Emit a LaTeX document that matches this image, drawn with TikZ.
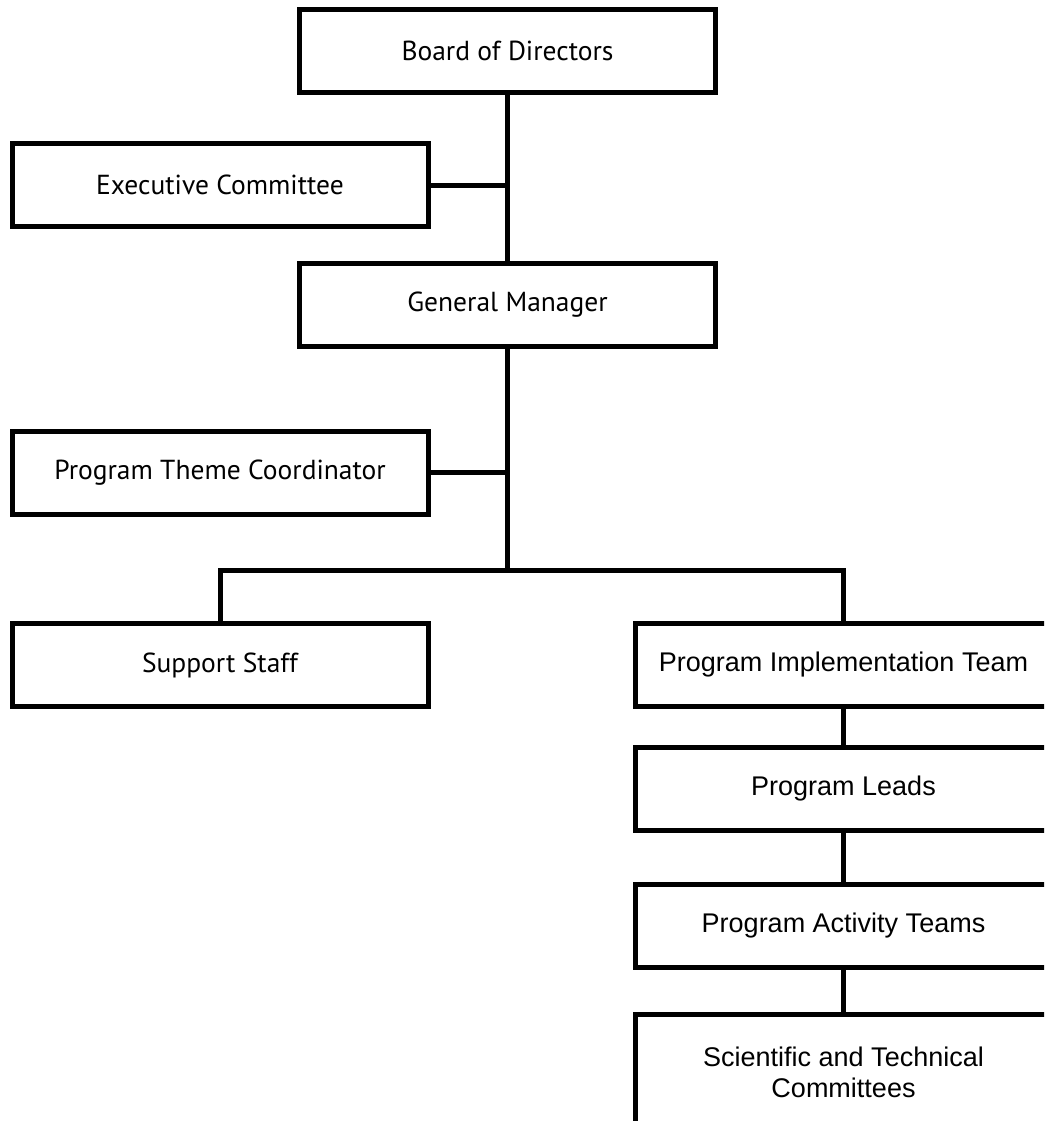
\documentclass[tikz,border=0pt]{standalone}
\usepackage{fontspec}
\setmainfont{Liberation Sans}
\newfontfamily\leftfont{PT Sans}
\begin{document}
\begin{tikzpicture}[x=1pt,y=-1pt,
  box/.style={draw=black, line width=5pt, fill=white, minimum width=416pt, minimum height=83pt, inner sep=0pt, align=center},
  lbox/.style={box, font=\leftfont\fontsize{27.5}{32}\selectfont},
  rbox/.style={box, font=\fontsize{27}{31}\selectfont},
  conn/.style={line width=5pt, line join=miter}]
\useasboundingbox (0,0) rectangle (1044,1121);
\clip (0,0) rectangle (1044,1121);
\node[lbox] (board) at (507.5,51) {Board of Directors};
\node[lbox] (exec) at (220,185) {Executive Committee};
\node[lbox] (gm) at (507.5,305) {General Manager};
\node[lbox] (ptc) at (220,472.5) {Program Theme Coordinator};
\node[lbox] (support) at (220,665) {Support Staff};
\node[rbox] (pit) at (843.5,665) {Program Implementation Team};
\node[rbox] (pl) at (843.5,789) {Program Leads};
\node[rbox] (pat) at (843.5,925.5) {Program Activity Teams};
\node[rbox, minimum height=115pt] (stc) at (843.5,1072) {Scientific and Technical\\Committees};
\coordinate (bus) at (507.5,570);
\draw[conn] (board.south) -- (gm.north);
\draw[conn] (exec.east) -- (exec.east -| board.south);
\draw[conn] (gm.south) -- (bus);
\draw[conn] (ptc.east) -- (ptc.east -| gm.south);
\draw[conn] (support.north) |- (bus) -| (pit.north);
\draw[conn] (pit.south) -- (pl.north);
\draw[conn] (pl.south) -- (pat.north);
\draw[conn] (pat.south) -- (stc.north);
\end{tikzpicture}
\end{document}
